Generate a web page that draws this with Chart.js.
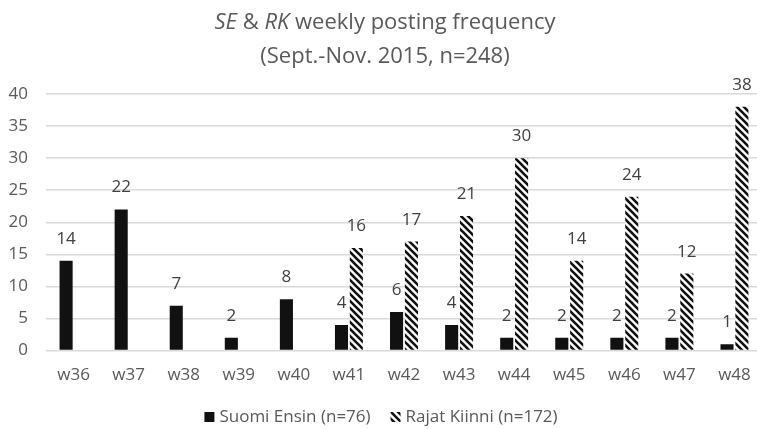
<!DOCTYPE html>
<html>
<head>
<meta charset="utf-8">
<script src="https://cdn.jsdelivr.net/npm/chart.js@4.4.0/dist/chart.umd.min.js"></script>
<style>
  html, body { margin:0; padding:0; background:#fff; overflow:hidden; }
  #wrap { position:relative; width:757px; height:429px; overflow:hidden; }
  #title { position:absolute; left:0; top:3px; width:770px; text-align:center;
    font-family:"Open Sans", sans-serif; font-size:22px; line-height:34px; color:#595959; }
  canvas { position:absolute; left:0; top:0; }
</style>
</head>
<body>
<div id="wrap">
  <canvas id="chart" width="762" height="429"></canvas>
  <div id="title"><i>SE</i> &amp; <i>RK</i> weekly posting frequency<br>(Sept.-Nov. 2015, n=248)</div>
</div>
<script>
const weeks = ['w36','w37','w38','w39','w40','w41','w42','w43','w44','w45','w46','w47','w48'];
const suomiEnsin = [14, 22, 7, 2, 8, 4, 6, 4, 2, 2, 2, 2, 1];
const rajatKiinni = [null, null, null, null, null, 16, 17, 21, 30, 14, 24, 12, 38];
const yTicks = [0, 5, 10, 15, 20, 25, 30, 35, 40];

const FONT = '"Open Sans", sans-serif';
const GREY = '#595959';

// diagonal hatch for Rajat Kiinni
function makeHatch(){
  const c = document.createElement('canvas');
  c.width = 7; c.height = 7;
  const g = c.getContext('2d');
  g.fillStyle = '#fff';
  g.fillRect(0,0,7,7);
  g.strokeStyle = '#111';
  g.lineWidth = 2.6;
  g.beginPath();
  g.moveTo(-2,-2); g.lineTo(9,9);
  g.moveTo(-9,-2); g.lineTo(2,9);
  g.moveTo(5,-2); g.lineTo(16,9);
  g.stroke();
  return g.createPattern(c, 'repeat');
}
const hatch = makeHatch();

// value labels above bars
const barLabels = {
  id: 'barLabels',
  afterDatasetsDraw(chart){
    const ctx = chart.ctx;
    ctx.save();
    ctx.font = '17px ' + FONT;
    ctx.fillStyle = '#404040';
    ctx.textAlign = 'center';
    ctx.textBaseline = 'alphabetic';
    chart.data.datasets.forEach((ds, i) => {
      chart.getDatasetMeta(i).data.forEach((bar, j) => {
        const v = ds.data[j];
        if (v == null) return;
        ctx.fillText(String(v), bar.x, bar.y - 17);
      });
    });
    ctx.restore();
  }
};

// legend at the bottom, drawn by hand to keep the tight spacing
const bottomLegend = {
  id: 'bottomLegend',
  afterDraw(chart){
    const ctx = chart.ctx;
    const ds = chart.data.datasets;
    ctx.save();
    ctx.font = '17px ' + FONT;
    const box = 10, gap = 5, between = 20;
    const w = ds.map(d => ctx.measureText(d.label).width);
    const total = w.reduce((a, b) => a + b, 0) + ds.length * (box + gap) + between * (ds.length - 1);
    let x = chart.width / 2 - total / 2;
    const y = 422;
    ds.forEach((d, i) => {
      ctx.fillStyle = d.backgroundColor;
      ctx.fillRect(x, y - box, box, box);
      x += box + gap;
      ctx.fillStyle = GREY;
      ctx.textBaseline = 'alphabetic';
      ctx.fillText(d.label, x, y);
      x += w[i] + between;
    });
    ctx.restore();
  }
};

new Chart(document.getElementById('chart'), {
  type: 'bar',
  data: {
    labels: weeks,
    datasets: [
      { label: 'Suomi Ensin (n=76)', data: suomiEnsin, backgroundColor: '#111' },
      { label: 'Rajat Kiinni (n=172)', data: rajatKiinni, backgroundColor: hatch }
    ]
  },
  options: {
    responsive: false,
    animation: false,
    layout: { padding: { top: 94, right: 0, left: 0, bottom: 38 } },
    datasets: { bar: { categoryPercentage: 0.54, barPercentage: 0.88 } },
    scales: {
      x: {
        grid: { display: false },
        border: { display: false },
        ticks: { color: GREY, font: { family: FONT, size: 17 }, padding: 6, maxRotation: 0 }
      },
      y: {
        min: 0, max: 40,
        afterBuildTicks(axis){ axis.ticks = yTicks.map(v => ({ value: v })); },
        afterFit(axis){ axis.width = 46; },
        grid: { color: '#d9d9d9', lineWidth: 1.5, drawTicks: false },
        border: { display: false },
        ticks: { color: GREY, font: { family: FONT, size: 17 }, padding: 18 }
      }
    },
    plugins: {
      legend: { display: false },
      tooltip: { enabled: false }
    }
  },
  plugins: [barLabels, bottomLegend]
});
</script>
</body>
</html>
